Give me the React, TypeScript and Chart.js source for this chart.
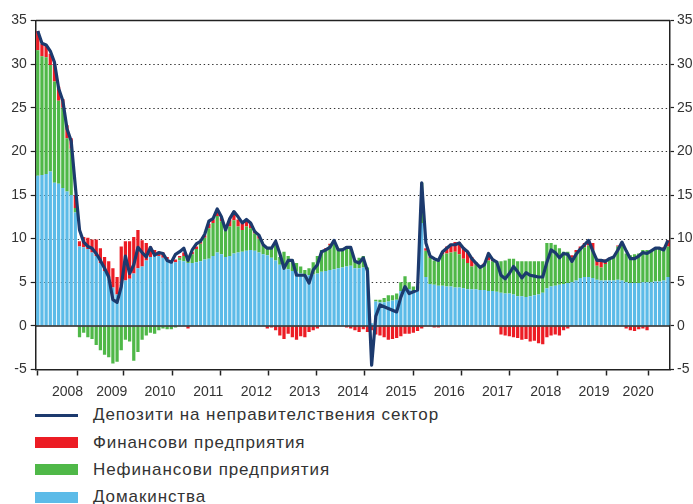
import React, { useEffect, useRef } from 'react';
import { Chart, registerables } from 'chart.js';

Chart.register(...registerables);

// Period: March 2008 – October 2020, monthly
const years = [2008, 2009, 2010, 2011, 2012, 2013, 2014, 2015, 2016, 2017, 2018, 2019, 2020];
const firstMonth = 3;
const lastMonth = 10;

const yTicks = [-5, 0, 5, 10, 15, 20, 25, 30, 35];
const dottedLevels = [5, 10, 15, 20, 25, 30];

const seriesNames = [
  'Депозити на неправителствения сектор',
  'Финансови предприятия',
  'Нефинансови предприятия',
  'Домакинства',
];

// Households (blue)
const households = [
  17.2, 17.3, 17.4, 17.7, 16.4, 16.3, 15.8, 15.4, 15.0, 13.0,
  9.1, 9.0, 8.8, 8.4, 8.0, 7.2, 6.3, 5.5, 4.4, 3.6, 4.5, 5.2,
  5.4, 6.0, 6.6, 6.8, 7.5, 7.9, 8.1, 8.0, 7.8, 7.6, 7.2, 7.3,
  7.5, 7.4, 7.2, 7.2, 7.3, 7.4, 7.6, 7.7, 8.0, 8.4, 8.2, 7.9,
  8.0, 8.3, 8.4, 8.5, 8.6, 8.7, 8.6, 8.4, 8.2, 8.1, 7.8, 7.5,
  7.0, 6.6, 6.5, 6.3, 6.2, 6.0, 5.9, 5.8, 5.9, 6.0, 6.2, 6.3,
  6.4, 6.5, 6.6, 6.7, 6.8, 6.9, 6.6, 6.6, 6.7, 6.4, 0.3, 2.8,
  2.7, 2.7, 2.8, 2.9, 3.0, 4.0, 4.4, 4.2, 4.0, 4.2, 11.8, 5.6,
  4.8, 4.7, 4.6, 4.6, 4.5, 4.5, 4.4, 4.4, 4.3, 4.2, 4.2, 4.2,
  4.1, 4.1, 4.0, 4.0, 3.9, 3.8, 3.7, 3.7, 3.6, 3.4, 3.4, 3.3,
  3.4, 3.5, 3.6, 3.8, 4.3, 4.5, 4.6, 4.7, 4.8, 4.9, 5.0, 5.2,
  5.5, 5.6, 5.6, 5.5, 5.3, 5.2, 5.2, 5.2, 5.2, 5.3, 5.2, 5.0,
  4.9, 4.9, 4.9, 5.0, 5.0, 5.0, 5.1, 5.1, 5.2, 5.6,
];

// Non-financial corporations (green)
const nonFinancial = [
  14.4, 13.6, 13.4, 12.2, 11.6, 9.5, 9.2, 6.1, 5.3, 0.5,
  -1.3, -0.8, -1.3, -1.5, -2.2, -2.8, -3.3, -3.6, -4.3, -4.1, -2.8, -1.6,
  -1.8, -4.0, -3.0, -1.6, -1.1, -0.8, -0.9, -0.5, -0.3, -0.4, -0.4, -0.2,
  0.3, 0.6, 0.4, 1.0, 1.5, 2.0, 2.5, 3.5, 3.8, 4.2, 3.8, 3.3,
  3.4, 3.8, 3.0, 2.5, 2.8, 2.5, 2.0, 1.6, 1.0, 0.9, 1.2, 2.0,
  0.9, 1.9, 1.5, 1.3, 1.0, 0.8, 0.5, 0.8, 1.4, 2.0, 2.5, 2.4,
  2.8, 3.0, 2.1, 2.2, 2.3, 1.9, 0.8, 1.2, 1.3, 0.3, 0.0, 0.2,
  0.3, 0.5, 0.7, 0.6, 0.7, 1.0, 1.3, 0.8, 0.5, 0.3, 4.6, 3.0,
  3.0, 2.8, 2.8, 3.6, 3.8, 3.9, 4.1, 3.8, 3.4, 3.0, 2.6, 2.8,
  2.5, 2.9, 3.5, 3.4, 3.5, 3.6, 3.8, 4.0, 4.1, 4.0, 4.0, 4.1,
  4.0, 3.9, 3.8, 3.6, 5.2, 5.0, 4.7, 4.2, 3.7, 3.6, 2.8, 3.2,
  3.2, 3.4, 3.6, 3.2, 1.6, 1.5, 1.9, 2.5, 2.7, 3.8, 4.0, 3.3,
  3.2, 3.3, 3.4, 3.7, 3.7, 3.7, 3.7, 3.8, 3.7, 3.5,
];

// Financial corporations (red)
const financial = [
  2.2, 1.4, 1.4, 1.3, 2.0, 1.6, 1.0, 1.5, 1.2, 1.5,
  0.6, 1.2, 1.3, 1.5, 1.9, 1.7, 1.6, 1.9, 2.2, 2.0, 4.6, 4.5,
  4.3, 4.2, 4.4, 3.0, 2.0, 1.2, 0.6, 0.5, 0.6, 0.3, 0.2, 0.3,
  0.2, 0.4, -0.3, 0.3, 0.3, 0.2, 0.3, 0.5, 0.4, 0.6, 0.4, 0.1,
  0.8, 1.0, 0.8, 0.8, 0.7, 0.6, 0.3, 0.3, 0.1, -0.3, -0.2, -0.5,
  -1.1, -1.5, -0.9, -1.3, -1.6, -1.2, -1.3, -0.7, -0.5, -0.3, 0.0, 0.2,
  0.2, 0.3, 0.1, 0.0, -0.2, -0.3, -0.5, -0.7, -0.4, -0.7, -0.5, -1.0,
  -1.1, -1.3, -1.6, -1.5, -1.4, -1.2, -0.9, -0.9, -0.8, -0.6, -0.3, 0.3,
  0.1, -0.2, -0.2, 0.3, 0.8, 1.0, 1.1, 1.4, 1.3, 1.3, 1.1, 0.3,
  0.2, 0.2, 0.8, 0.3, -0.1, -1.0, -1.1, -1.2, -1.3, -1.4, -1.6, -1.5,
  -1.8, -1.7, -2.0, -2.1, -1.3, -1.1, -1.0, -1.1, -0.5, -0.3, 0.3, 0.3,
  0.4, 0.5, 0.6, 0.8, 0.8, 0.8, 0.5, 0.1, 0.1, 0.1, 0.3, -0.3,
  -0.5, -0.6, -0.4, -0.3, -0.5, 0.0, 0.1, 0.0, 0.1, 0.7,
];

// Deposits of the non-government sector (navy line)
const totalDeposits = [
  33.8, 32.4, 32.2, 31.5, 30.2, 27.2, 25.8, 22.6, 21.2, 16.0,
  11.0, 9.6, 9.1, 8.9, 8.3, 7.5, 6.6, 5.6, 3.0, 2.7, 4.5, 8.0,
  6.0, 7.0, 9.0, 8.4, 7.9, 9.0, 8.1, 8.4, 8.3, 7.5, 7.3, 8.2,
  8.5, 8.9, 7.5, 8.7, 9.4, 9.7, 10.5, 12.0, 12.3, 13.4, 12.5, 11.0,
  12.3, 13.1, 12.5, 11.8, 12.2, 11.8, 10.8, 10.4, 9.3, 8.9, 8.9, 9.7,
  8.3, 6.6, 7.5, 7.5, 5.8, 5.8, 5.8, 4.9, 6.4, 7.0, 8.5, 8.7,
  9.0, 9.8, 8.7, 8.7, 9.0, 9.0, 7.4, 7.2, 7.8, 6.3, -4.5, 1.1,
  2.4, 2.2, 2.0, 1.8, 1.6, 3.3, 4.5, 3.7, 3.9, 4.1, 16.4, 9.5,
  8.0, 7.7, 7.5, 8.5, 8.9, 9.3, 9.3, 9.5, 8.9, 8.5, 7.7, 7.2,
  6.7, 7.0, 8.3, 7.6, 7.3, 5.8, 5.4, 6.0, 6.8, 6.2, 5.5, 6.1,
  5.8, 5.7, 5.6, 5.6, 7.3, 8.7, 8.4, 7.8, 8.3, 8.2, 7.4, 8.2,
  8.8, 9.3, 9.8, 8.6, 7.5, 7.5, 7.4, 7.7, 7.9, 8.7, 9.6, 8.6,
  7.7, 7.7, 8.0, 8.4, 8.3, 8.6, 8.9, 8.9, 8.7, 9.8,
];

const COLORS = {
  households: '#5cbbe8',
  nonFinancial: '#4fb848',
  financial: '#ec1c24',
  total: '#1c3a6e',
  axis: '#222222',
  text: '#333333',
};

// Build month categories and year tick positions from the period definition
const monthLabels: string[] = [];
const yearStartIdx: number[] = [];
const yearEndIdx: number[] = [];
years.forEach((yr, k) => {
  const m0 = k === 0 ? firstMonth : 1;
  const m1 = k === years.length - 1 ? lastMonth : 12;
  yearStartIdx.push(monthLabels.length);
  for (let m = m0; m <= m1; m++) monthLabels.push(`${yr}-${String(m).padStart(2, '0')}`);
  yearEndIdx.push(monthLabels.length - 1);
});
const boundaryValues = yearStartIdx.map((s) => s - 0.5).concat([monthLabels.length - 0.5]);
const midValues = years.map((_, k) => (yearStartIdx[k] + yearEndIdx[k]) / 2);

const FONT = '"Liberation Sans", Arial, sans-serif';

const overlayPlugin = {
  id: 'overlay',
  beforeDatasetsDraw(chart: any) {
    const { ctx, chartArea, scales } = chart;
    const y = scales.y;
    ctx.save();
    ctx.strokeStyle = '#333';
    ctx.lineWidth = 1.2;
    ctx.setLineDash([1.4, 2.8]);
    dottedLevels.forEach((v) => {
      const py = Math.round(y.getPixelForValue(v)) + 0.5;
      ctx.beginPath();
      ctx.moveTo(chartArea.left, py);
      ctx.lineTo(chartArea.right, py);
      ctx.stroke();
    });
    ctx.restore();
  },
  beforeDatasetDraw(chart: any, args: any) {
    if (args.index !== 0) return;
    const { ctx, chartArea, scales } = chart;
    const py = scales.y.getPixelForValue(0);
    ctx.save();
    ctx.strokeStyle = COLORS.axis;
    ctx.lineWidth = 1.5;
    ctx.beginPath();
    ctx.moveTo(chartArea.left, py);
    ctx.lineTo(chartArea.right, py);
    ctx.stroke();
    ctx.restore();
  },
  afterDatasetsDraw(chart: any) {
    const { ctx, chartArea } = chart;
    ctx.save();
    ctx.strokeStyle = COLORS.axis;
    ctx.lineWidth = 1.5;
    ctx.beginPath();
    ctx.moveTo(chartArea.left, chartArea.top);
    ctx.lineTo(chartArea.right, chartArea.top);
    ctx.stroke();
    ctx.restore();
  },
};

const W = 693;
const H = 404;

export default function App() {
  const ref = useRef<HTMLCanvasElement | null>(null);

  useEffect(() => {
    if (!ref.current) return;
    const yCommon = {
      type: 'linear' as const,
      min: -5,
      max: 35,
      afterBuildTicks: (s: any) => {
        s.ticks = yTicks.map((v) => ({ value: v }));
      },
    };
    const chart = new Chart(ref.current, {
      type: 'bar',
      data: {
        labels: monthLabels,
        datasets: [
          {
            type: 'line',
            label: seriesNames[0],
            data: totalDeposits,
            borderColor: COLORS.total,
            borderWidth: 3.2,
            pointRadius: 0,
            tension: 0,
            borderJoinStyle: 'round',
            stack: 'total',
            order: 0,
          } as any,
          {
            label: seriesNames[3],
            data: households,
            backgroundColor: COLORS.households,
            stack: 'sectors',
            order: 1,
            barPercentage: 0.78,
            categoryPercentage: 1,
          },
          {
            label: seriesNames[2],
            data: nonFinancial,
            backgroundColor: COLORS.nonFinancial,
            stack: 'sectors',
            order: 1,
            barPercentage: 0.78,
            categoryPercentage: 1,
          },
          {
            label: seriesNames[1],
            data: financial,
            backgroundColor: COLORS.financial,
            stack: 'sectors',
            order: 1,
            barPercentage: 0.78,
            categoryPercentage: 1,
          },
        ],
      },
      options: {
        responsive: false,
        animation: false,
        devicePixelRatio: 1,
        layout: { padding: { top: 20.5, left: 0, right: 0, bottom: 0 } },
        plugins: { legend: { display: false }, tooltip: { enabled: false } },
        scales: {
          x: { type: 'category', display: false, stacked: true, offset: true },
          xYears: {
            type: 'linear',
            position: 'bottom',
            min: -0.5,
            max: monthLabels.length - 0.5,
            afterBuildTicks: (s: any) => {
              const t = boundaryValues.map((v) => ({ value: v })).concat(midValues.map((v) => ({ value: v })));
              t.sort((a, b) => a.value - b.value);
              s.ticks = t;
            },
            afterFit: (s: any) => {
              s.height = H - 369.5;
            },
            grid: {
              drawOnChartArea: false,
              drawTicks: true,
              tickLength: 6,
              tickWidth: 1.5,
              tickColor: (c: any) => (c.tick && boundaryValues.includes(c.tick.value) ? COLORS.axis : 'rgba(0,0,0,0)'),
            },
            border: { display: true, color: COLORS.axis, width: 1.5 },
            ticks: {
              autoSkip: false,
              maxRotation: 0,
              minRotation: 0,
              padding: 8,
              color: COLORS.text,
              font: { family: FONT, size: 14 },
              callback: (v: any) => {
                const k = midValues.indexOf(Number(v));
                return k >= 0 ? String(years[k]) : '';
              },
            },
          },
          y: {
            ...yCommon,
            position: 'left',
            stacked: true,
            afterFit: (s: any) => {
              s.width = 35.7;
            },
            grid: { drawOnChartArea: false, drawTicks: true, tickLength: 5, tickColor: COLORS.axis, tickWidth: 1.2 },
            border: { display: true, color: COLORS.axis, width: 1.5 },
            ticks: { padding: 4, color: COLORS.text, font: { family: FONT, size: 14 } },
          },
          yRight: {
            ...yCommon,
            position: 'right',
            afterFit: (s: any) => {
              s.width = 23;
            },
            grid: { drawOnChartArea: false, drawTicks: true, tickLength: 4, tickColor: COLORS.axis, tickWidth: 1.2 },
            border: { display: true, color: COLORS.axis, width: 1.5 },
            ticks: { padding: 3, color: COLORS.text, font: { family: FONT, size: 14 } },
          },
        },
      } as any,
      plugins: [overlayPlugin],
    });
    return () => chart.destroy();
  }, []);

  const legendItems = [
    { name: seriesNames[0], color: COLORS.total, kind: 'line', cy: 415 },
    { name: seriesNames[1], color: COLORS.financial, kind: 'box', cy: 442.5 },
    { name: seriesNames[2], color: COLORS.nonFinancial, kind: 'box', cy: 469.5 },
    { name: seriesNames[3], color: COLORS.households, kind: 'box', cy: 497 },
  ];

  return (
    <div style={{ position: 'absolute', left: 0, top: 0, width: W, height: 504, background: '#fff', overflow: 'hidden' }}>
      <canvas ref={ref} width={W} height={H} style={{ position: 'absolute', left: 0, top: 0, width: W, height: H }} />
      {legendItems.map((it) => (
        <React.Fragment key={it.name}>
          <div
            style={{
              position: 'absolute',
              left: 35,
              top: it.kind === 'line' ? it.cy - 1.5 : it.cy - 5.5,
              width: 43,
              height: it.kind === 'line' ? 3 : 11,
              background: it.color,
            }}
          />
          <div
            style={{
              position: 'absolute',
              left: 93,
              top: it.cy - 11,
              height: 22,
              lineHeight: '22px',
              fontFamily: FONT,
              fontSize: 17,
              letterSpacing: '0.9px',
              color: COLORS.text,
              whiteSpace: 'nowrap',
            }}
          >
            {it.name}
          </div>
        </React.Fragment>
      ))}
    </div>
  );
}
